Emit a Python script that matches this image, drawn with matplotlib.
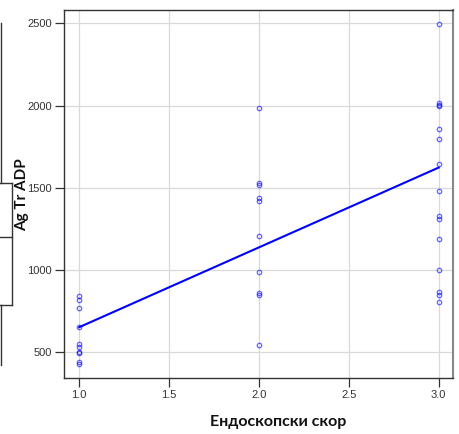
import numpy as np
import matplotlib
matplotlib.use("Agg")
import matplotlib.pyplot as plt
from matplotlib.lines import Line2D

# values
score_1 = [841, 817, 771, 654, 548, 534, 504, 498, 443, 431]
score_2 = [1988, 1530, 1515, 1440, 1420, 1207, 990, 860, 850, 542]
score_3 = [2495, 2015, 2005, 1998, 1855, 1795, 1645, 1482, 1327, 1313,
           1190, 1002, 865, 849, 805]
fit_intercept = 168
fit_slope = 485

x_ticks = [1.0, 1.5, 2.0, 2.5, 3.0]
y_ticks = [500, 1000, 1500, 2000, 2500]
x_label = "Ендоскопски скор"
y_label = "Ag Tr ADP"

W, H = 459, 434
fig = plt.figure(figsize=(W / 100, H / 100), dpi=100)
ax = fig.add_axes([64 / W, 1 - 378 / H, 389 / W, 368 / H])

xs = np.concatenate([np.full(len(score_1), 1.0),
                     np.full(len(score_2), 2.0),
                     np.full(len(score_3), 3.0)])
ys = np.array(score_1 + score_2 + score_3, dtype=float)

ax.grid(True, color="#d9d9d9", linewidth=0.9)
ax.set_axisbelow(True)

ax.plot(xs, ys, linestyle="none", marker="o", markersize=3.2,
        markerfacecolor="none", markeredgecolor=(0, 0, 1, 0.6),
        markeredgewidth=0.9, zorder=3)

line_x = np.array([1.0, 3.0])
ax.plot(line_x, fit_intercept + fit_slope * line_x, color="#0000ff",
        linewidth=1.5, zorder=4)

ax.set_xlim(0.915, 3.08)
ax.set_ylim(344, 2581)
ax.set_xticks(x_ticks)
ax.set_xticklabels([f"{t:.1f}" for t in x_ticks])
ax.set_yticks(y_ticks)
ax.set_yticklabels([str(t) for t in y_ticks])

for s in ax.spines.values():
    s.set_color("#333333")
    s.set_linewidth(1.0)
ax.spines["right"].set_color("#888888")
ax.spines["right"].set_linewidth(1.5)

ax.tick_params(axis="both", direction="out", length=6.5, width=0.9,
               color="#333333", labelcolor="#333333", labelsize=8, pad=2)
for lbl in ax.get_xticklabels() + ax.get_yticklabels():
    lbl.set_fontfamily("Liberation Sans")

fig.text(278 / W, 1 - 422 / H, x_label, ha="center", va="center",
         fontsize=11.5, fontweight="bold", family="Lato", color="#111111")
fig.text(22 / W, 1 - 195 / H, y_label, ha="center", va="center",
         rotation=90, fontsize=11, fontweight="bold", family="Lato",
         color="#111111")

# fragments of a neighbouring panel cut off at the left edge
def px_line(x0, y0, x1, y1):
    fig.add_artist(Line2D([x0 / W, x1 / W], [1 - y0 / H, 1 - y1 / H],
                          color="#333333", linewidth=1.0))

px_line(0.5, 23, 0.5, 183)
px_line(0, 183, 11.7, 183)
px_line(11.7, 183, 11.7, 305)
px_line(0, 237, 11.7, 237)
px_line(0, 305, 11.7, 305)
px_line(0.5, 305, 0.5, 365)

fig.savefig("out.png", dpi=100)
